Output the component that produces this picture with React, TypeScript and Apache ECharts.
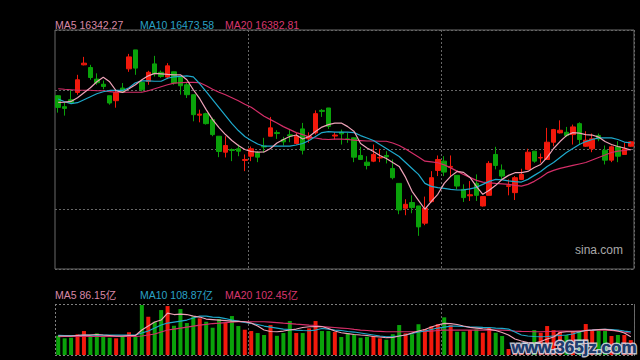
import React, { useEffect, useRef } from 'react';
import * as echarts from 'echarts';

const categories = Array.from({ length: 90 }, (_, i) => `D${i + 1}`);

const opens = [17300, 17117, 17233, 17355, 17817, 17772, 17578, 17492, 17300, 17217, 17428, 17750, 18067, 17522, 17538, 17833, 17692, 17612, 17700, 17605, 17483, 17317, 16975, 17000, 16900, 16622, 16355, 16400, 16412, 16217, 16288, 16345, 16458, 16622, 16683, 16567, 16645, 16500, 16745, 16578, 16678, 17055, 17095, 16625, 16688, 16578, 16595, 16300, 16188, 16205, 16258, 16300, 16083, 15833, 15417, 15512, 15455, 15167, 15528, 16050, 16205, 16103, 15967, 15733, 15625, 15833, 15455, 15633, 16317, 16055, 15783, 15678, 15900, 16067, 16372, 16258, 16233, 16522, 16678, 16688, 16650, 16833, 16455, 16412, 16633, 16388, 16222, 16445, 16317, 16455];
const closes = [17105, 17088, 17188, 17567, 17845, 17605, 17517, 17455, 17178, 17355, 17355, 17950, 17762, 17400, 17692, 17667, 17622, 17800, 17512, 17467, 17317, 16983, 16992, 16833, 16650, 16367, 16467, 16383, 16372, 16233, 16412, 16272, 16442, 16762, 16667, 16528, 16628, 16622, 16388, 16622, 17000, 17038, 16788, 16642, 16662, 16567, 16272, 16233, 16133, 16317, 16267, 16278, 15928, 15388, 15483, 15428, 15105, 15417, 15928, 16233, 16022, 16117, 15788, 15595, 15642, 15633, 15612, 16167, 16133, 15955, 15795, 15928, 15983, 16355, 16205, 16267, 16522, 16733, 16722, 16633, 16778, 16567, 16555, 16578, 16578, 16222, 16445, 16288, 16412, 16528];
const lows = [17017, 16967, 17167, 17317, 17808, 17567, 17483, 17408, 17150, 17100, 17345, 17700, 17650, 17372, 17483, 17622, 17600, 17578, 17483, 17317, 17262, 16872, 16855, 16817, 16622, 16272, 16267, 16205, 16288, 16038, 16205, 16188, 16345, 16622, 16578, 16467, 16522, 16483, 16317, 16512, 16650, 16945, 16745, 16567, 16483, 16512, 16188, 16233, 16067, 16188, 16188, 16167, 15900, 15317, 15300, 15333, 14955, 15133, 15512, 15955, 15955, 15945, 15733, 15522, 15538, 15538, 15445, 15633, 16067, 15900, 15633, 15555, 15888, 16055, 16178, 16178, 16233, 16455, 16667, 16612, 16483, 16483, 16445, 16355, 16538, 16150, 16188, 16188, 16317, 16445];
const highs = [17310, 17183, 17400, 17650, 17950, 17817, 17675, 17555, 17300, 17400, 17512, 18000, 18067, 17550, 17717, 17967, 17722, 17845, 17705, 17617, 17517, 17317, 17067, 17017, 16933, 16622, 16622, 16417, 16483, 16317, 16450, 16372, 16595, 16945, 16722, 16612, 16745, 16678, 16845, 16688, 17055, 17078, 17095, 16688, 16733, 16678, 16600, 16445, 16288, 16483, 16412, 16372, 16233, 15833, 15567, 15633, 15455, 15612, 16038, 16300, 16288, 16300, 15967, 15817, 15872, 15983, 15612, 16205, 16445, 16150, 15900, 15955, 16078, 16412, 16372, 16333, 16762, 16745, 16888, 16778, 16817, 16855, 16705, 16667, 16667, 16467, 16467, 16538, 16512, 16538];

const ma5 = [17188, 17192, 17205, 17267, 17350, 17433, 17533, 17608, 17533, 17383, 17355, 17417, 17483, 17567, 17633, 17675, 17667, 17658, 17650, 17650, 17567, 17400, 17250, 17067, 16900, 16767, 16650, 16550, 16467, 16400, 16367, 16355, 16358, 16417, 16508, 16567, 16617, 16642, 16575, 16617, 16700, 16775, 16817, 16842, 16842, 16783, 16700, 16500, 16425, 16367, 16300, 16250, 16183, 16117, 15933, 15700, 15550, 15400, 15533, 15650, 15833, 15950, 16033, 16017, 15933, 15783, 15650, 15717, 15800, 15900, 15967, 16012, 16012, 16033, 16100, 16150, 16267, 16417, 16533, 16633, 16683, 16675, 16650, 16642, 16608, 16533, 16483, 16450, 16425, 16392];
const ma10 = [17245, 17200, 17167, 17183, 17233, 17283, 17333, 17367, 17388, 17392, 17388, 17433, 17517, 17550, 17550, 17542, 17542, 17592, 17617, 17625, 17633, 17617, 17500, 17367, 17233, 17100, 16967, 16833, 16717, 16617, 16550, 16492, 16455, 16455, 16455, 16455, 16458, 16475, 16500, 16550, 16617, 16683, 16700, 16692, 16692, 16692, 16683, 16633, 16592, 16550, 16483, 16417, 16350, 16283, 16183, 16083, 15983, 15833, 15783, 15762, 15750, 15733, 15722, 15725, 15742, 15767, 15817, 15867, 15900, 15892, 15875, 15862, 15855, 15900, 15967, 16033, 16117, 16183, 16267, 16350, 16417, 16483, 16533, 16567, 16595, 16595, 16595, 16567, 16525, 16512];
const ma20 = [17417, 17408, 17400, 17392, 17392, 17392, 17383, 17383, 17367, 17358, 17358, 17358, 17358, 17358, 17383, 17417, 17450, 17483, 17512, 17517, 17522, 17522, 17517, 17467, 17408, 17358, 17317, 17267, 17217, 17158, 17108, 17033, 16958, 16900, 16842, 16783, 16733, 16683, 16650, 16608, 16592, 16575, 16567, 16575, 16575, 16567, 16558, 16550, 16542, 16542, 16538, 16538, 16508, 16467, 16408, 16342, 16275, 16205, 16192, 16178, 16142, 16092, 16038, 15983, 15933, 15883, 15855, 15842, 15833, 15825, 15817, 15800, 15788, 15817, 15867, 15933, 16008, 16050, 16083, 16108, 16133, 16158, 16183, 16225, 16267, 16308, 16350, 16372, 16383, 16400];

const volumes = [90.7, 78.5, 81.3, 97.3, 112.8, 94, 102, 86, 81.3, 78.5, 86, 106.7, 86, 235, 180, 156.5, 211.5, 230.3, 137.7, 216.2, 150.4, 181, 172.5, 156.5, 128.3, 169.2, 150.4, 183.3, 136.3, 118.9, 112.8, 103.4, 94, 141, 90.2, 103.4, 159.8, 103.4, 103.4, 125.5, 159.8, 112.8, 112.8, 108.1, 84.6, 102, 95.4, 81.3, 86, 89.3, 78.5, 71.9, 97.8, 141, 102, 97.8, 144.8, 122.2, 134.9, 144.8, 177.2, 141, 109.5, 109.5, 117.5, 120.8, 104.8, 128.3, 104.8, 89.3, 28.2, 51.7, 45, 40, 117.5, 104.8, 136.3, 117, 109.5, 94, 108, 109.5, 145.7, 117.5, 117.5, 114.2, 89.3, 94, 94, 70];
const volMa5 = [89.3, 89.3, 89.3, 91.7, 94, 94, 96.4, 94, 91.7, 89.3, 89.3, 91.7, 91.7, 117.5, 136.3, 155.1, 164.5, 197.4, 190.4, 192.7, 190.4, 183.3, 178.6, 169.2, 166.9, 164.5, 162.2, 159.8, 158.4, 156.5, 150.4, 136.3, 117.5, 110.5, 109.5, 112.8, 117.5, 122.2, 129.3, 133, 134, 134, 124.6, 112.8, 104.8, 101, 96.4, 94, 91.7, 87, 84.6, 81.3, 82.3, 89.3, 94, 103.4, 112.8, 119.9, 131.6, 141, 149, 148, 143.4, 136.3, 130.2, 126.9, 123.6, 120.8, 115.2, 105.8, 94, 75.2, 65.8, 58.8, 56.4, 63.5, 75.2, 84.6, 105.8, 109.5, 109.5, 109.5, 115.2, 117.5, 119.9, 120.8, 117.5, 112.8, 103.4, 86.15];
const volMa10 = [92.6, 91.7, 91.7, 92.6, 94, 94, 94, 94, 94, 94, 94, 94, 94, 103.4, 112.8, 126.9, 141, 150.4, 155.1, 159.8, 164.5, 173.9, 183.3, 183.3, 178.6, 177.2, 171.6, 164.5, 159.8, 152.8, 148.1, 143.4, 136.3, 131.6, 126.9, 122.2, 119.9, 117.5, 115.2, 114.2, 117.5, 124.6, 122.2, 117.5, 115.2, 110.5, 108.1, 103.4, 98.7, 94, 89.3, 86, 87, 89.3, 94, 101, 108.1, 112.8, 119.9, 126.9, 131.6, 136.3, 136.3, 134, 131.6, 131.6, 130.2, 129.3, 126.9, 125.5, 122.2, 108.1, 94, 89.3, 87, 86, 87, 89.3, 91.7, 94, 98.7, 108.1, 115.2, 117.5, 119.9, 120.8, 119.9, 117.5, 112.8, 108.87];
const volMa20 = [86, 87, 87, 87, 87, 87, 87, 87, 87, 87, 87, 87, 87, 89.3, 94, 98.7, 108.1, 117.5, 122.2, 126.9, 131.6, 136.3, 141, 144.3, 148.1, 150.4, 152.8, 155.1, 156.5, 156.5, 156.5, 156.5, 156.5, 155.1, 152.8, 150.4, 148.1, 145.7, 143.4, 141, 138.7, 134, 131.6, 129.3, 126.9, 124.6, 120.8, 117.5, 115.2, 112.8, 111.4, 109.5, 109.5, 109.5, 109.5, 109.5, 109.5, 110.5, 112.8, 115.2, 117.5, 117.5, 117.5, 117.5, 117.5, 117.5, 117.5, 117.5, 117.5, 117.5, 115.2, 112.8, 111.4, 110.5, 109.5, 109.5, 110.5, 111.4, 112.8, 112.8, 112.8, 114.2, 115.2, 116.6, 117.5, 117.5, 115.2, 112.8, 108.1, 102.45];

const priceLegend = [
  { name: 'MA5', value: '16342.27' },
  { name: 'MA10', value: '16473.58' },
  { name: 'MA20', value: '16382.81' },
];
const volumeLegend = [
  { name: 'MA5', value: '86.15亿' },
  { name: 'MA10', value: '108.87亿' },
  { name: 'MA20', value: '102.45亿' },
];

const UP = '#f2190c';
const DOWN = '#0aa20a';
const MA_LINE = ['#eea3b8', '#1ea9cc', '#d42e68'];
const MA_TEXT = ['#d888a6', '#2aa2c6', '#d8366e'];
const FONT = 'Arial, "Liberation Sans", "Noto Sans CJK SC", sans-serif';
const GRID_LINE = '#666';

export default function App() {
  const ref = useRef<HTMLDivElement>(null);
  useEffect(() => {
    const chart = echarts.init(ref.current!, null, { renderer: 'svg' });
    const candles = opens.map((o, i) => [o, closes[i], lows[i], highs[i]]);
    const volData = volumes.map((v, i) => ({
      value: v,
      itemStyle: { color: closes[i] >= opens[i] ? UP : DOWN },
    }));
    const legendX = [55, 140, 225];
    const legendTexts: any[] = [];
    priceLegend.forEach((l, k) => {
      legendTexts.push({
        type: 'text', x: legendX[k], y: 24.5, silent: true,
        style: { text: `${l.name} ${l.value}`, fill: MA_TEXT[k], font: `10.5px ${FONT}`, verticalAlign: 'middle' },
      });
    });
    volumeLegend.forEach((l, k) => {
      legendTexts.push({
        type: 'text', x: legendX[k], y: 295, silent: true,
        style: { text: `${l.name} ${l.value}`, fill: MA_TEXT[k], font: `10.5px ${FONT}`, verticalAlign: 'middle' },
      });
    });
    const dash = { stroke: '#808080', lineWidth: 1, lineDash: [2, 2] };
    const splitX = (idx: number) => idx > 0 && idx % 30 === 0;
    chart.setOption({
      animation: false,
      backgroundColor: '#000',
      grid: [
        { left: 55, top: 30, width: 579, height: 239, show: true, borderColor: '#6a6a6a', borderWidth: 1, backgroundColor: 'transparent' },
        { left: 55, top: 304, width: 579, height: 51, show: false },
      ],
      xAxis: [
        {
          type: 'category', gridIndex: 0, data: categories, boundaryGap: true,
          axisLine: { show: false }, axisTick: { show: false }, axisLabel: { show: false },
          splitLine: { show: true, interval: splitX, lineStyle: { color: GRID_LINE, type: [2, 2], width: 1 } },
        },
        {
          type: 'category', gridIndex: 1, data: categories, boundaryGap: true,
          axisLine: { show: false }, axisTick: { show: false }, axisLabel: { show: false },
          splitLine: { show: true, interval: splitX, lineStyle: { color: GRID_LINE, type: [2, 2], width: 1 } },
        },
      ],
      yAxis: [
        {
          type: 'value', gridIndex: 0, min: 14400, max: 18400, interval: 1000, scale: true,
          axisLine: { show: false }, axisTick: { show: false }, axisLabel: { show: false },
          splitLine: { show: true, lineStyle: { color: GRID_LINE, type: [2, 2], width: 1 } },
        },
        {
          type: 'value', gridIndex: 1, min: 0, max: 240,
          axisLine: { show: false }, axisTick: { show: false }, axisLabel: { show: false },
          splitLine: { show: false },
        },
      ],
      series: [
        {
          type: 'candlestick', xAxisIndex: 0, yAxisIndex: 0, data: candles, barWidth: 5,
          itemStyle: { color: UP, color0: DOWN, borderColor: UP, borderColor0: DOWN, borderWidth: 1 },
        },
        { type: 'line', xAxisIndex: 0, yAxisIndex: 0, data: ma20, symbol: 'none', lineStyle: { color: MA_LINE[2], width: 1.2 } },
        { type: 'line', xAxisIndex: 0, yAxisIndex: 0, data: ma10, symbol: 'none', lineStyle: { color: MA_LINE[1], width: 1.2 } },
        { type: 'line', xAxisIndex: 0, yAxisIndex: 0, data: ma5, symbol: 'none', lineStyle: { color: MA_LINE[0], width: 1.2 } },
        { type: 'bar', xAxisIndex: 1, yAxisIndex: 1, data: volData, barWidth: 4 },
        { type: 'line', xAxisIndex: 1, yAxisIndex: 1, data: volMa20, symbol: 'none', lineStyle: { color: MA_LINE[2], width: 1.2 } },
        { type: 'line', xAxisIndex: 1, yAxisIndex: 1, data: volMa10, symbol: 'none', lineStyle: { color: MA_LINE[1], width: 1.2 } },
        { type: 'line', xAxisIndex: 1, yAxisIndex: 1, data: volMa5, symbol: 'none', lineStyle: { color: MA_LINE[0], width: 1.2 } },
      ],
      graphic: [
        ...legendTexts,
        { type: 'line', silent: true, shape: { x1: 55, y1: 304.5, x2: 634, y2: 304.5 }, style: dash },
        { type: 'line', silent: true, shape: { x1: 55, y1: 355.5, x2: 634, y2: 355.5 }, style: dash },
        { type: 'line', silent: true, shape: { x1: 55.5, y1: 304, x2: 55.5, y2: 356 }, style: dash },
        { type: 'line', silent: true, shape: { x1: 634.5, y1: 304, x2: 634.5, y2: 356 }, style: { stroke: '#6a6a6a', lineWidth: 1 } },
        {
          type: 'text', x: 623, y: 250, silent: true,
          style: { text: 'sina.com', fill: '#a8a8a8', font: `12px ${FONT}`, align: 'right', verticalAlign: 'middle' },
        },
        {
          type: 'text', x: 574, y: 347, silent: true, z: 100,
          style: { text: 'www.365jz.com', fill: '#1f3d6e', stroke: 'rgba(215,220,235,0.85)', lineWidth: 3, font: `bold 17px ${FONT}`, align: 'center', verticalAlign: 'middle' },
        },
        {
          type: 'text', x: 574, y: 347, silent: true, z: 101,
          style: { text: 'www.365jz.com', fill: '#1f3d6e', font: `bold 17px ${FONT}`, align: 'center', verticalAlign: 'middle' },
        },
      ],
    });
    return () => chart.dispose();
  }, []);
  return <div ref={ref} style={{ position: 'fixed', left: 0, top: 0, width: 640, height: 360, background: '#000' }} />;
}
